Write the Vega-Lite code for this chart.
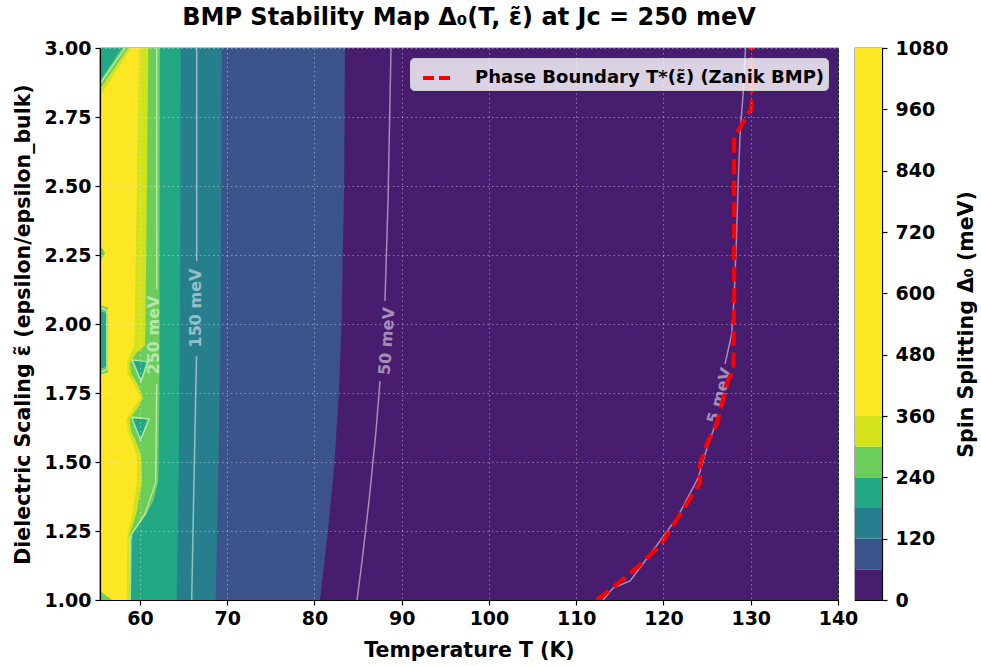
{
  "$schema": "https://vega.github.io/schema/vega-lite/v6.json",
  "background": "white",
  "padding": {"left": 12, "top": 5, "right": 2, "bottom": 2},
  "autosize": {"type": "pad"},
  "bounds": "flush",
  "spacing": 17,
  "resolve": {"scale": {"x": "independent", "y": "independent", "stroke": "independent", "fill": "independent"}, "legend": {"stroke": "independent", "fill": "independent"}},
  "datasets": {
    "areas": [
      {"k": "L0", "eps": 1, "T": 140}, {"k": "L0", "eps": 3, "T": 140},
      {"k": "L60", "eps": 1, "T": 80.63}, {"k": "L60", "eps": 1.1, "T": 81.0}, {"k": "L60", "eps": 1.25, "T": 81.55}, {"k": "L60", "eps": 1.5, "T": 82.3}, {"k": "L60", "eps": 1.75, "T": 82.8}, {"k": "L60", "eps": 2.0, "T": 83.1}, {"k": "L60", "eps": 2.5, "T": 83.4}, {"k": "L60", "eps": 3, "T": 83.5},
      {"k": "L120", "eps": 1, "T": 68.68}, {"k": "L120", "eps": 1.25, "T": 68.85}, {"k": "L120", "eps": 1.5, "T": 69.0}, {"k": "L120", "eps": 2.0, "T": 69.25}, {"k": "L120", "eps": 2.5, "T": 69.33}, {"k": "L120", "eps": 3, "T": 69.37},
      {"k": "L180", "eps": 1, "T": 64.21}, {"k": "L180", "eps": 1.5, "T": 64.45}, {"k": "L180", "eps": 2.0, "T": 64.58}, {"k": "L180", "eps": 3, "T": 64.67},
      {"k": "L240", "eps": 1, "T": 58.97}, {"k": "L240", "eps": 1.239, "T": 59.12}, {"k": "L240", "eps": 1.261, "T": 59.63}, {"k": "L240", "eps": 1.312, "T": 60.77}, {"k": "L240", "eps": 1.359, "T": 61.53}, {"k": "L240", "eps": 1.431, "T": 62.1}, {"k": "L240", "eps": 1.721, "T": 62.22}, {"k": "L240", "eps": 2.083, "T": 62.24}, {"k": "L240", "eps": 3, "T": 62.3},
      {"k": "L300", "eps": 1, "T": 58.74}, {"k": "L300", "eps": 1.239, "T": 58.86}, {"k": "L300", "eps": 1.322, "T": 59.66}, {"k": "L300", "eps": 1.431, "T": 60.23}, {"k": "L300", "eps": 1.522, "T": 60.12}, {"k": "L300", "eps": 1.565, "T": 59.66}, {"k": "L300", "eps": 1.612, "T": 58.97}, {"k": "L300", "eps": 1.656, "T": 58.8}, {"k": "L300", "eps": 1.692, "T": 59.66}, {"k": "L300", "eps": 1.732, "T": 60.35}, {"k": "L300", "eps": 1.779, "T": 59.77}, {"k": "L300", "eps": 1.822, "T": 58.97}, {"k": "L300", "eps": 1.859, "T": 58.86}, {"k": "L300", "eps": 1.895, "T": 59.55}, {"k": "L300", "eps": 1.92, "T": 60.58}, {"k": "L300", "eps": 2.083, "T": 60.66}, {"k": "L300", "eps": 3, "T": 60.96},
      {"k": "L360", "eps": 1, "T": 58.48}, {"k": "L360", "eps": 1.239, "T": 58.57}, {"k": "L360", "eps": 1.322, "T": 59.2}, {"k": "L360", "eps": 1.431, "T": 59.66}, {"k": "L360", "eps": 1.522, "T": 59.66}, {"k": "L360", "eps": 1.565, "T": 59.2}, {"k": "L360", "eps": 1.612, "T": 58.57}, {"k": "L360", "eps": 1.656, "T": 58.46}, {"k": "L360", "eps": 1.692, "T": 59.2}, {"k": "L360", "eps": 1.732, "T": 60.06}, {"k": "L360", "eps": 1.779, "T": 59.32}, {"k": "L360", "eps": 1.822, "T": 58.57}, {"k": "L360", "eps": 1.859, "T": 58.51}, {"k": "L360", "eps": 1.895, "T": 58.97}, {"k": "L360", "eps": 1.92, "T": 59.37}, {"k": "L360", "eps": 2.083, "T": 59.43}, {"k": "L360", "eps": 3, "T": 59.92}
    ],
    "patches": [
      {"c": "yg", "k": "corner", "eps": 2.826, "T": 55.42, "T0": 55.42}, {"c": "yg", "k": "corner", "eps": 3, "T": 58.97, "T0": 55.42},
      {"c": "g", "k": "corner", "eps": 2.851, "T": 55.42, "T0": 55.42}, {"c": "g", "k": "corner", "eps": 3, "T": 58.63, "T0": 55.42},
      {"c": "g", "k": "strip", "eps": 1.815, "T": 55.42, "T0": 55.42}, {"c": "g", "k": "strip", "eps": 1.825, "T": 56.34, "T0": 55.42}, {"c": "g", "k": "strip", "eps": 2.059, "T": 56.34, "T0": 55.42}, {"c": "g", "k": "strip", "eps": 2.069, "T": 55.42, "T0": 55.42},
      {"c": "g", "k": "blip", "eps": 2.228, "T": 55.42, "T0": 55.42}, {"c": "g", "k": "blip", "eps": 2.257, "T": 56.0, "T0": 55.42}, {"c": "g", "k": "blip", "eps": 2.286, "T": 55.42, "T0": 55.42},
      {"c": "g", "k": "bottom", "eps": 1, "T": 56.8, "T0": 55.42}, {"c": "g", "k": "bottom", "eps": 1.033, "T": 55.42, "T0": 55.42},
      {"c": "tg", "k": "corner", "eps": 2.88, "T": 55.42, "T0": 55.42}, {"c": "tg", "k": "corner", "eps": 3, "T": 57.94, "T0": 55.42},
      {"c": "tg", "k": "strip", "eps": 1.837, "T": 55.42, "T0": 55.42}, {"c": "tg", "k": "strip", "eps": 1.845, "T": 56.11, "T0": 55.42}, {"c": "tg", "k": "strip", "eps": 2.04, "T": 56.11, "T0": 55.42}, {"c": "tg", "k": "strip", "eps": 2.047, "T": 55.42, "T0": 55.42},
      {"c": "tg", "k": "tri1", "eps": 1.801, "T": 60.12, "T0": 60.06}, {"c": "tg", "k": "tri1", "eps": 1.866, "T": 60.75, "T0": 59.26},
      {"c": "tg", "k": "tri2", "eps": 1.587, "T": 60.06, "T0": 60.0}, {"c": "tg", "k": "tri2", "eps": 1.656, "T": 60.92, "T0": 59.14}
    ],
    "lines": [
      {"s": "c250a", "o": 1, "eps": 3, "T": 61.92}, {"s": "c250a", "o": 2, "eps": 2.127, "T": 61.92},
      {"s": "c250b", "o": 1, "eps": 1.783, "T": 61.92}, {"s": "c250b", "o": 2, "eps": 1.424, "T": 61.8}, {"s": "c250b", "o": 3, "eps": 1.312, "T": 60.58}, {"s": "c250b", "o": 4, "eps": 1.239, "T": 59.05}, {"s": "c250b", "o": 5, "eps": 1.214, "T": 58.86}, {"s": "c250b", "o": 6, "eps": 1, "T": 58.86},
      {"s": "c250t1", "o": 1, "eps": 1.87, "T": 59.09}, {"s": "c250t1", "o": 2, "eps": 1.862, "T": 60.92}, {"s": "c250t1", "o": 3, "eps": 1.793, "T": 60.12}, {"s": "c250t1", "o": 4, "eps": 1.87, "T": 59.09},
      {"s": "c250t2", "o": 1, "eps": 1.663, "T": 59.03}, {"s": "c250t2", "o": 2, "eps": 1.656, "T": 61.04}, {"s": "c250t2", "o": 3, "eps": 1.58, "T": 60.06}, {"s": "c250t2", "o": 4, "eps": 1.663, "T": 59.03},
      {"s": "c250c", "o": 1, "eps": 3, "T": 58.3}, {"s": "c250c", "o": 2, "eps": 2.87, "T": 55.42},
      {"s": "c250s", "o": 1, "eps": 1.825, "T": 55.42}, {"s": "c250s", "o": 2, "eps": 1.835, "T": 56.22}, {"s": "c250s", "o": 3, "eps": 2.05, "T": 56.22}, {"s": "c250s", "o": 4, "eps": 2.06, "T": 55.42},
      {"s": "c150a", "o": 1, "eps": 3, "T": 66.5}, {"s": "c150a", "o": 2, "eps": 2.228, "T": 66.5},
      {"s": "c150b", "o": 1, "eps": 1.884, "T": 66.48}, {"s": "c150b", "o": 2, "eps": 1.431, "T": 66.19}, {"s": "c150b", "o": 3, "eps": 1, "T": 65.93},
      {"s": "c50a", "o": 1, "eps": 3, "T": 88.77}, {"s": "c50a", "o": 2, "eps": 2.446, "T": 88.43}, {"s": "c50a", "o": 3, "eps": 2.083, "T": 88.08},
      {"s": "c50b", "o": 1, "eps": 1.793, "T": 87.51}, {"s": "c50b", "o": 2, "eps": 1.612, "T": 87.05}, {"s": "c50b", "o": 3, "eps": 1.359, "T": 86.25}, {"s": "c50b", "o": 4, "eps": 1.141, "T": 85.45}, {"s": "c50b", "o": 5, "eps": 1, "T": 84.88},
      {"s": "c5a", "o": 1, "eps": 1, "T": 113.07}, {"s": "c5a", "o": 2, "eps": 1.043, "T": 114.22}, {"s": "c5a", "o": 3, "eps": 1.069, "T": 116.17}, {"s": "c5a", "o": 4, "eps": 1.214, "T": 119.6}, {"s": "c5a", "o": 5, "eps": 1.304, "T": 121.67}, {"s": "c5a", "o": 6, "eps": 1.442, "T": 123.96}, {"s": "c5a", "o": 7, "eps": 1.551, "T": 124.99}, {"s": "c5a", "o": 8, "eps": 1.623, "T": 125.8},
      {"s": "c5b", "o": 1, "eps": 1.855, "T": 127.05}, {"s": "c5b", "o": 2, "eps": 1.964, "T": 127.82}, {"s": "c5b", "o": 3, "eps": 2.1, "T": 128.1}, {"s": "c5b", "o": 4, "eps": 2.3, "T": 128.35}, {"s": "c5b", "o": 5, "eps": 2.55, "T": 128.6}, {"s": "c5b", "o": 6, "eps": 2.7, "T": 128.8}, {"s": "c5b", "o": 7, "eps": 2.844, "T": 129.15}, {"s": "c5b", "o": 8, "eps": 3, "T": 129.4}
    ],
    "labels": [
      {"txt": "250 meV", "T": 61.64, "eps": 1.96},
      {"txt": "150 meV", "T": 66.42, "eps": 2.058},
      {"txt": "50 meV", "T": 88.31, "eps": 1.938},
      {"txt": "5 meV", "T": 126.45, "eps": 1.74}
    ],
    "boundary": [
      {"o": 1, "T": 112.35, "eps": 1.0}, {"o": 2, "T": 114.44, "eps": 1.051}, {"o": 3, "T": 116.93, "eps": 1.117}, {"o": 4, "T": 119.6, "eps": 1.196}, {"o": 5, "T": 121.9, "eps": 1.31}, {"o": 6, "T": 124.2, "eps": 1.425}, {"o": 7, "T": 124.2, "eps": 1.492}, {"o": 8, "T": 124.95, "eps": 1.564}, {"o": 9, "T": 126.1, "eps": 1.637}, {"o": 10, "T": 127.43, "eps": 1.8}, {"o": 11, "T": 128.0, "eps": 1.83}, {"o": 12, "T": 128.1, "eps": 2.1}, {"o": 13, "T": 128.1, "eps": 2.681}, {"o": 14, "T": 128.77, "eps": 2.711}, {"o": 15, "T": 129.5, "eps": 2.754}, {"o": 16, "T": 130.1, "eps": 2.779}, {"o": 17, "T": 130.1, "eps": 3.0}
    ],
    "cbar": [
      {"band": "b0", "lo": 0, "hi": 60}, {"band": "b1", "lo": 60, "hi": 120}, {"band": "b2", "lo": 120, "hi": 180}, {"band": "b3", "lo": 180, "hi": 240}, {"band": "b4", "lo": 240, "hi": 300}, {"band": "b5", "lo": 300, "hi": 360}, {"band": "b6", "lo": 360, "hi": 1080}
    ]
  },
  "hconcat": [
    {
      "width": 738,
      "height": 552,
      "title": {"text": "BMP Stability Map Δ₀(T, ε̃) at Jc = 250 meV", "anchor": "middle", "frame": "group", "offset": 9},
      "encoding": {
        "x": {"field": "T", "type": "quantitative", "stack": null, "scale": {"domain": [55.42, 140], "nice": false, "zero": false}, "axis": {"title": "Temperature T (K)", "values": [60, 70, 80, 90, 100, 110, 120, 130, 140], "grid": true, "zindex": 1, "labelFlush": false, "titlePadding": 12}},
        "y": {"field": "eps", "type": "quantitative", "scale": {"domain": [1, 3], "nice": false, "zero": false}, "axis": {"title": "Dielectric Scaling ε̃ (epsilon/epsilon_bulk)", "values": [1, 1.25, 1.5, 1.75, 2, 2.25, 2.5, 2.75, 3], "format": ".2f", "grid": true, "zindex": 1, "titlePadding": 11}}
      },
      "layer": [
        {"data": {"name": "areas"}, "transform": [{"filter": "datum.k == 'L0'"}], "mark": {"type": "area", "orient": "horizontal", "fill": "#481c6e", "clip": true}, "encoding": {"x2": {"datum": 55.42}}},
        {"data": {"name": "areas"}, "transform": [{"filter": "datum.k == 'L60'"}], "mark": {"type": "area", "orient": "horizontal", "fill": "#3b528b", "clip": true}, "encoding": {"x2": {"datum": 55.42}}},
        {"data": {"name": "areas"}, "transform": [{"filter": "datum.k == 'L120'"}], "mark": {"type": "area", "orient": "horizontal", "fill": "#277f8e", "clip": true}, "encoding": {"x2": {"datum": 55.42}}},
        {"data": {"name": "areas"}, "transform": [{"filter": "datum.k == 'L180'"}], "mark": {"type": "area", "orient": "horizontal", "fill": "#22a884", "clip": true}, "encoding": {"x2": {"datum": 55.42}}},
        {"data": {"name": "areas"}, "transform": [{"filter": "datum.k == 'L240'"}], "mark": {"type": "area", "orient": "horizontal", "fill": "#6ccd5a", "clip": true}, "encoding": {"x2": {"datum": 55.42}}},
        {"data": {"name": "areas"}, "transform": [{"filter": "datum.k == 'L300'"}], "mark": {"type": "area", "orient": "horizontal", "fill": "#d2e21b", "clip": true}, "encoding": {"x2": {"datum": 55.42}}},
        {"data": {"name": "areas"}, "transform": [{"filter": "datum.k == 'L360'"}], "mark": {"type": "area", "orient": "horizontal", "fill": "#fde725", "clip": true}, "encoding": {"x2": {"datum": 55.42}}},
        {"data": {"name": "patches"}, "transform": [{"filter": "datum.c == 'yg'"}], "mark": {"type": "area", "orient": "horizontal", "fill": "#d2e21b", "clip": true}, "encoding": {"x2": {"field": "T0"}, "detail": {"field": "k"}}},
        {"data": {"name": "patches"}, "transform": [{"filter": "datum.c == 'g'"}], "mark": {"type": "area", "orient": "horizontal", "fill": "#6ccd5a", "clip": true}, "encoding": {"x2": {"field": "T0"}, "detail": {"field": "k"}}},
        {"data": {"name": "patches"}, "transform": [{"filter": "datum.c == 'tg'"}], "mark": {"type": "area", "orient": "horizontal", "fill": "#22a884", "clip": true}, "encoding": {"x2": {"field": "T0"}, "detail": {"field": "k"}}},
        {"data": {"name": "lines"}, "mark": {"type": "line", "stroke": "#ffffff", "strokeOpacity": 0.5, "strokeWidth": 1.5, "clip": true}, "encoding": {"detail": {"field": "s"}, "order": {"field": "o"}}},
        {"data": {"name": "labels"}, "transform": [{"filter": "datum.txt == '250 meV' || datum.txt == '150 meV'"}], "mark": {"type": "text", "angle": 270, "fill": "#ffffff", "opacity": 0.5, "fontSize": 16, "fontWeight": "bold", "font": "DejaVu Sans", "align": "center", "baseline": "middle"}, "encoding": {"text": {"field": "txt"}}},
        {"data": {"name": "labels"}, "transform": [{"filter": "datum.txt == '50 meV'"}], "mark": {"type": "text", "angle": 274, "fill": "#ffffff", "opacity": 0.5, "fontSize": 16, "fontWeight": "bold", "font": "DejaVu Sans", "align": "center", "baseline": "middle"}, "encoding": {"text": {"field": "txt"}}},
        {"data": {"name": "labels"}, "transform": [{"filter": "datum.txt == '5 meV'"}], "mark": {"type": "text", "angle": 285, "fill": "#ffffff", "opacity": 0.5, "fontSize": 16, "fontWeight": "bold", "font": "DejaVu Sans", "align": "center", "baseline": "middle"}, "encoding": {"text": {"field": "txt"}}},
        {"data": {"name": "boundary"}, "mark": {"type": "line", "strokeWidth": 4.2, "strokeDash": [15, 6.5], "clip": true}, "encoding": {"order": {"field": "o"}, "stroke": {"datum": "Phase Boundary T*(ε̃) (Zanik BMP)", "type": "nominal", "scale": {"range": ["#ff0000"]}, "legend": {"orient": "top-right", "offset": 10, "title": null, "fillColor": "rgba(255,255,255,0.8)", "strokeColor": "#cccccc", "cornerRadius": 4, "padding": 3, "labelFontSize": 18, "labelFontWeight": "bold", "labelFont": "DejaVu Sans", "labelColor": "#000000", "labelLimit": 600, "labelOffset": 20, "symbolOffset": 8, "symbolType": "stroke", "symbolStrokeWidth": 4, "symbolDash": [11, 5], "symbolSize": 900, "symbolStrokeColor": "#ff0000"}}}}
      ]
    },
    {
      "width": 27,
      "height": 552,
      "data": {"name": "cbar"},
      "mark": {"type": "rect"},
      "encoding": {
        "x": {"datum": 0, "type": "quantitative", "scale": {"domain": [0, 1]}, "axis": null},
        "x2": {"datum": 1},
        "y": {"field": "lo", "type": "quantitative", "scale": {"domain": [0, 1080], "nice": false, "zero": false}, "axis": {"orient": "right", "values": [0, 120, 240, 360, 480, 600, 720, 840, 960, 1080], "format": "d", "title": "Spin Splitting Δ₀ (meV)", "grid": false, "labelPadding": 8, "titlePadding": 9, "titleAngle": 270, "titleBaseline": "top"}},
        "y2": {"field": "hi"},
        "fill": {"field": "band", "type": "nominal", "scale": {"domain": ["b0", "b1", "b2", "b3", "b4", "b5", "b6"], "range": ["#481c6e", "#3b528b", "#277f8e", "#22a884", "#6ccd5a", "#d2e21b", "#fde725"]}, "legend": null}
      }
    }
  ],
  "config": {
    "font": "DejaVu Sans",
    "view": {"stroke": "#000000", "strokeWidth": 1.2},
    "title": {"font": "DejaVu Sans", "fontSize": 24, "fontWeight": "bold", "color": "#000000"},
    "axis": {
      "labelFont": "DejaVu Sans", "labelFontWeight": "bold", "labelFontSize": 19, "labelColor": "#000000",
      "titleFont": "DejaVu Sans", "titleFontWeight": "bold", "titleFontSize": 20.5, "titleColor": "#000000",
      "tickColor": "#000000", "tickSize": 5, "tickWidth": 1.2, "labelPadding": 4, "titlePadding": 6,
      "domainColor": "#000000", "domainWidth": 1.2, "labelFlush": false,
      "gridColor": "#ffffff", "gridOpacity": 0.4, "gridDash": [1.5, 3], "gridWidth": 1
    }
  }
}
